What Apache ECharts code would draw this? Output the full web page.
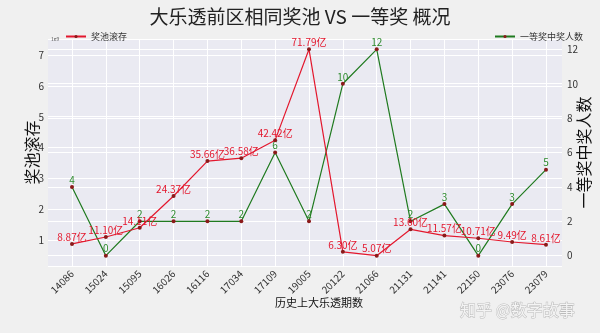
<!DOCTYPE html>
<html>
<head>
<meta charset="utf-8">
<script src="https://cdn.jsdelivr.net/npm/echarts@6/dist/echarts.min.js"></script>
<style>
  html, body { margin: 0; padding: 0; background: #f0f0f0; }
  #chart { width: 600px; height: 333px; }
</style>
</head>
<body>
<div id="chart"></div>
<script>
// 期号
const issues = ['14086', '15024', '15095', '16026', '16116', '17034', '17109', '19005',
  '20122', '21066', '21131', '21141', '22150', '23076', '23079']
// 奖池滚存 (单位 1e9 元)
const poolValues = [0.887, 1.110, 1.411, 2.437, 3.566, 3.658, 4.242, 7.179,
  0.630, 0.507, 1.360, 1.157, 1.071, 0.949, 0.861]
// 一等奖中奖人数
const winnerCounts = [4, 0, 2, 2, 2, 2, 6, 2, 10, 12, 2, 3, 0, 3, 5]

const poolMin = 0.173
const poolMax = 7.513
const countMin = -0.6
const countMax = 12.6

const font = '"Noto Sans CJK SC", "DejaVu Sans", sans-serif'
const chart = echarts.init(document.getElementById('chart'))

function intOnly(value) {
  return Math.abs(value - Math.round(value)) < 1e-6 ? String(Math.round(value)) : ''
}

chart.setOption({
  backgroundColor: '#f0f0f0',
  animation: false,
  textStyle: { fontFamily: font },
  title: [
    {
      text: '大乐透前区相同奖池 VS 一等奖 概况',
      left: 'center',
      top: 2,
      textStyle: { fontSize: 19, fontWeight: 'normal', color: '#222', fontFamily: font }
    },
    {
      text: '1e9',
      left: 46,
      top: 32,
      textStyle: { fontSize: 5, fontWeight: 'normal', color: '#555' }
    },
    {
      text: '知乎 @数字故事',
      left: 455,
      top: 297,
      textStyle: {
        fontSize: 16, fontWeight: 'normal', color: '#f4f4f4', fontFamily: font,
        textBorderColor: '#bbb', textBorderWidth: 1
      }
    }
  ],
  legend: [
    {
      data: ['奖池滚存'],
      left: 60,
      top: 27,
      itemWidth: 20,
      itemHeight: 4,
      itemGap: 6,
      textStyle: { fontSize: 9, color: '#333' }
    },
    {
      data: ['一等奖中奖人数'],
      right: 12,
      top: 27,
      itemWidth: 20,
      itemHeight: 4,
      textStyle: { fontSize: 9, color: '#333' }
    }
  ],
  grid: [
    { left: 48, right: 30, top: 39, bottom: 67, show: true, backgroundColor: '#eaeaf2', borderWidth: 0 },
    { left: 72, right: 54, top: 39, bottom: 67 }
  ],
  xAxis: [
    { type: 'value', gridIndex: 0, show: false, min: 0, max: 1 },
    {
      type: 'category',
      gridIndex: 1,
      data: issues,
      boundaryGap: false,
      axisLine: { show: false },
      axisTick: { show: false },
      axisLabel: { rotate: 45, fontSize: 10, color: '#333', margin: 6, interval: 0 },
      splitLine: { show: true, lineStyle: { color: '#fff', width: 1 } },
      name: '历史上大乐透期数',
      nameLocation: 'middle',
      nameGap: 31,
      nameMoveOverlap: false,
      nameTextStyle: { fontSize: 11, color: '#111', padding: [0, 0, 0, 20] }
    }
  ],
  yAxis: [
    {
      type: 'value',
      gridIndex: 0,
      position: 'left',
      min: poolMin,
      max: poolMax,
      splitNumber: 7,
      axisLine: { show: false },
      axisTick: { show: false },
      axisLabel: { fontSize: 10, color: '#333', margin: 4, formatter: intOnly },
      splitLine: { show: true, lineStyle: { color: '#fff', width: 1 } },
      name: '奖池滚存',
      nameLocation: 'middle',
      nameRotate: 90,
      nameGap: 8,
      nameMoveOverlap: false,
      nameTextStyle: { fontSize: 16, color: '#111' }
    },
    {
      type: 'value',
      gridIndex: 0,
      position: 'right',
      min: countMin,
      max: countMax,
      splitNumber: 6,
      axisLine: { show: false },
      axisTick: { show: false },
      axisLabel: { fontSize: 10, color: '#333', margin: 5, formatter: intOnly },
      splitLine: { show: true, lineStyle: { color: '#fff', width: 1 } },
      name: '一等奖中奖人数',
      nameLocation: 'middle',
      nameRotate: 90,
      nameGap: 14,
      nameMoveOverlap: false,
      nameTextStyle: { fontSize: 16, color: '#111' }
    },
    { type: 'value', gridIndex: 1, min: poolMin, max: poolMax, show: false, splitLine: { show: false } },
    { type: 'value', gridIndex: 1, min: countMin, max: countMax, show: false, splitLine: { show: false } }
  ],
  series: [
    {
      name: '奖池滚存',
      type: 'line',
      xAxisIndex: 1,
      yAxisIndex: 2,
      data: poolValues,
      symbol: 'circle',
      symbolSize: 4,
      lineStyle: { color: '#e3172d', width: 1.2 },
      itemStyle: { color: '#8b1a1a', borderWidth: 0 },
      label: {
        show: true,
        position: 'top',
        distance: 0,
        fontSize: 10,
        color: '#e3172d',
        formatter: (p) => (p.value * 10).toFixed(2) + '亿'
      },
      z: 3
    },
    {
      name: '一等奖中奖人数',
      type: 'line',
      xAxisIndex: 1,
      yAxisIndex: 3,
      data: winnerCounts,
      symbol: 'circle',
      symbolSize: 4,
      lineStyle: { color: '#1f7a1f', width: 1.2 },
      itemStyle: { color: '#8b1a1a', borderWidth: 0 },
      label: {
        show: true,
        position: 'top',
        distance: 0,
        fontSize: 10,
        color: '#2e8b2e'
      },
      z: 2
    }
  ]
})
</script>
</body>
</html>
